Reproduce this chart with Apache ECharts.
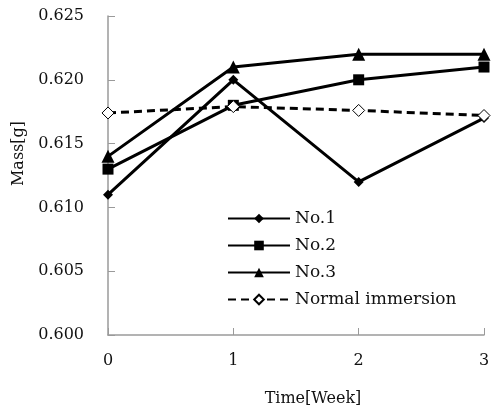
<!DOCTYPE html>
<html><head><meta charset="utf-8">
<script src="https://cdn.jsdelivr.net/npm/echarts@6/dist/echarts.min.js"></script>
<style>html,body{margin:0;padding:0;background:#fff}#c{width:497px;height:412px}</style>
</head><body><div id="c"></div>
<script>
var weeks = [0, 1, 2, 3];
var no1 = [0.611, 0.620, 0.612, 0.617];
var no2 = [0.613, 0.618, 0.620, 0.621];
var no3 = [0.614, 0.621, 0.622, 0.622];
var normal = [0.6174, 0.6179, 0.6176, 0.6172];
var seriesNames = ['No.1', 'No.2', 'No.3', 'Normal immersion'];

function pts(v){ return weeks.map(function(w,i){ return [w, v[i]]; }); }
var font = 'DejaVu Serif';
var chart = echarts.init(document.getElementById('c'));
chart.setOption({
  animation: false,
  backgroundColor: '#fff',
  grid: {left: 108, right: 13, top: 16, bottom: 76},
  legend: {
    orient: 'vertical', left: 222, top: 205,
    itemWidth: 62, itemHeight: 12, itemGap: 10,
    textStyle: {fontFamily: font, fontSize: 17, color: '#111'},
    data: seriesNames
  },
  xAxis: {
    type: 'value', min: 0, max: 3, interval: 1,
    name: 'Time[Week]', nameLocation: 'middle', nameGap: 56,
    nameTextStyle: {fontFamily: font, fontSize: 16, color: '#111', padding: [0,0,0,34]},
    axisLine: {lineStyle: {color: '#9a9a9a', width: 1.5}},
    axisTick: {inside: true, length: 7, lineStyle: {color: '#9a9a9a'}},
    axisLabel: {fontFamily: font, fontSize: 16, color: '#111', margin: 18},
    splitLine: {show: false}
  },
  yAxis: {
    type: 'value', min: 0.600, max: 0.625, interval: 0.005,
    name: 'Mass[g]', nameLocation: 'middle', nameGap: 78,
    nameTextStyle: {fontFamily: font, fontSize: 16, color: '#111', padding: [0,0,0,44]},
    axisLine: {show: true, lineStyle: {color: '#9a9a9a', width: 1.5}},
    axisTick: {show: true, inside: true, length: 7, lineStyle: {color: '#9a9a9a'}},
    axisLabel: {fontFamily: font, fontSize: 16, color: '#111', margin: 24,
      formatter: function(v){ return v.toFixed(3); }},
    splitLine: {show: false}
  },
  series: [
    {name: 'No.1', type: 'line', data: pts(no1), symbol: 'diamond', symbolSize: 10,
      lineStyle: {color: '#000', width: 3}, itemStyle: {color: '#000'}, z: 3},
    {name: 'No.2', type: 'line', data: pts(no2), symbol: 'rect', symbolSize: 11,
      lineStyle: {color: '#000', width: 3}, itemStyle: {color: '#000'}, z: 3},
    {name: 'No.3', type: 'line', data: pts(no3), symbol: 'triangle', symbolSize: 13,
      lineStyle: {color: '#000', width: 3}, itemStyle: {color: '#000'}, z: 3},
    {name: 'Normal immersion', type: 'line', data: pts(normal), symbol: 'diamond', symbolSize: 12,
      lineStyle: {color: '#000', width: 3, type: [8, 5]},
      itemStyle: {color: '#fff', borderColor: '#000', borderWidth: 1}, z: 4}
  ]
});
</script></body></html>
